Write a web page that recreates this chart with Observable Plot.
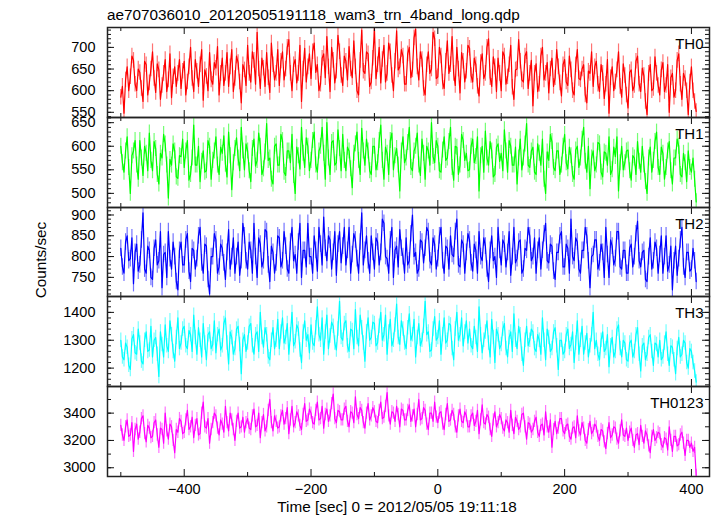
<!DOCTYPE html>
<html><head><meta charset="utf-8">
<script src="https://cdn.jsdelivr.net/npm/d3@7"></script>
<script src="https://cdn.jsdelivr.net/npm/@observablehq/plot@0.6"></script>
<style>
body{margin:0;background:#fff;}
#wrap{position:relative;width:717px;height:516px;font-family:"Liberation Sans",Arial,sans-serif;color:#000;overflow:hidden;}
#wrap svg{overflow:visible;}
.lbl{position:absolute;font-size:15.3px;line-height:15.3px;white-space:nowrap;}
</style></head><body><div id="wrap"></div>
<script>
// ---- data ----
const titleText = "ae707036010_20120505191118_wam3_trn_4band_long.qdp";
const xLabel = "Time [sec] 0 = 2012/05/05 19:11:18";
const yLabel = "Counts/sec";
const panelNames = ["TH0", "TH1", "TH2", "TH3", "TH0123"];
const panelColors = ["#ff0000", "#00ff00", "#0000ff", "#00ffff", "#ff00ff"];
const tStart = -500, tStep = 2.5;
const th0 = [
585,610,548,625,655,600,632,680,670,615,600,650,642,605,575,668,660,590,618,650,
690,628,596,662,648,580,612,640,672,598,625,685,584,632,655,610,640,672,605,645,
668,590,620,655,700,628,598,672,645,610,660,695,578,648,633,600,688,625,615,665,
652,702,590,640,675,612,640,688,610,655,695,598,628,680,665,620,572,660,648,612,
705,640,620,690,670,615,735,650,605,675,652,610,688,630,596,710,660,625,640,695,
612,668,690,625,650,700,718,640,600,660,672,618,640,705,575,650,698,620,655,685,
628,690,710,642,660,600,615,675,685,630,725,655,598,700,670,618,645,728,690,635,
612,680,668,625,702,650,630,715,655,600,590,670,740,645,640,690,685,610,620,675,
745,628,660,700,618,672,705,620,640,710,690,635,600,668,738,648,655,695,680,615,
615,685,700,630,648,722,742,655,625,690,672,605,590,660,690,640,650,735,720,628,
632,700,680,620,605,668,715,640,660,725,640,612,700,650,595,688,668,620,645,705,
698,635,620,675,660,610,588,665,685,628,640,700,720,630,610,678,655,598,675,640,
600,690,680,615,632,660,705,608,580,648,650,718,668,625,620,680,690,605,640,670,
565,640,662,598,615,680,700,625,640,665,595,650,675,610,630,695,655,618,588,660,
672,620,612,680,648,600,590,660,695,628,625,650,660,590,572,645,640,690,610,655,
668,615,598,660,640,582,615,672,548,630,655,600,620,648,690,610,585,662,635,590,
560,642,648,600,612,668,680,615,598,652,635,575,545,640,660,600,605,678,640,612,
590,648,665,598,612,660,550,630,640,585,600,670,685,615,580,640,628,600,545,620,
655,600,575,552];
const th1 = [
600,565,545,590,620,555,500,580,590,612,560,530,612,575,538,600,585,548,628,570,
548,610,595,540,520,585,575,625,605,560,490,572,560,605,590,535,532,580,578,615,
555,590,612,528,540,575,645,560,560,600,525,568,590,545,548,612,600,530,570,590,
620,560,540,598,585,622,562,535,630,580,508,565,595,618,575,548,640,590,550,605,
590,548,525,595,615,558,570,628,600,540,552,588,648,570,575,530,520,600,605,560,
560,625,612,545,538,590,590,565,625,538,500,598,580,552,640,585,555,618,600,548,
570,612,630,560,545,590,600,640,585,530,650,575,540,608,612,560,565,635,595,548,
625,570,548,598,590,552,512,585,605,630,570,540,638,590,560,615,590,548,540,600,
600,550,565,612,645,570,530,598,585,540,612,628,550,580,595,560,505,590,620,565,
575,608,640,555,548,590,600,628,560,538,615,585,530,600,590,560,650,578,565,612,
600,548,545,592,620,570,575,610,640,555,528,600,598,540,560,625,612,570,585,548,
550,600,615,565,578,620,505,580,600,545,632,575,560,610,590,535,540,598,605,568,
585,548,635,590,545,612,600,560,560,598,520,575,615,550,575,605,648,560,555,590,
598,545,540,605,585,560,615,530,500,588,570,625,610,555,548,590,590,540,560,600,
625,565,552,598,580,540,530,592,600,555,575,615,640,568,545,600,510,575,590,548,
560,608,605,545,535,588,585,560,620,540,550,598,578,620,505,565,600,550,565,590,
592,548,528,580,575,540,610,568,545,600,560,525,500,575,598,545,570,610,630,555,
540,598,585,530,555,590,610,548,520,575,575,615,600,540,535,585,565,525,590,555,
545,575,530,482];
const th2 = [
820,775,760,835,850,790,795,845,735,810,830,765,780,840,905,770,760,825,815,750,
745,820,840,780,790,860,725,805,810,750,860,795,770,835,800,740,720,815,835,780,
780,840,855,765,740,820,815,770,795,850,870,785,760,830,825,745,710,800,800,855,
840,760,775,830,820,785,745,810,865,770,800,845,760,800,835,755,790,880,850,790,
770,835,815,760,880,800,750,845,830,775,790,865,860,780,740,825,810,760,785,850,
845,775,790,860,825,770,760,835,870,790,805,760,835,880,750,815,815,775,880,800,
800,760,850,815,765,870,830,780,895,820,790,850,840,770,810,860,755,830,860,785,
825,870,780,815,870,760,805,855,840,795,760,835,905,780,815,850,790,760,850,810,
770,845,835,780,810,890,880,800,795,760,840,870,750,815,825,775,865,820,800,760,
845,780,790,855,900,800,810,760,770,840,835,785,820,870,860,790,780,845,830,770,
795,850,870,790,760,825,820,770,850,805,800,860,890,780,775,840,830,760,810,855,
840,785,765,830,815,760,860,800,790,845,825,770,740,815,850,790,800,750,870,815,
780,840,830,775,810,860,755,800,870,785,795,835,840,760,770,820,815,870,850,790,
800,845,760,815,845,770,815,855,880,790,785,830,825,765,745,810,810,850,860,775,
775,830,820,760,890,800,790,845,835,770,760,815,815,870,850,790,725,800,805,840,
840,770,785,830,810,750,870,805,750,840,825,780,795,860,860,775,770,815,815,760,
760,820,830,775,800,855,885,790,775,810,815,745,740,800,845,770,790,835,820,760,
805,850,760,800,850,765,780,825,720,790,825,755,795,840,870,775,750,810,810,765,
770,820,790,740];
const th3 = [
1300,1240,1230,1290,1275,1210,1195,1305,1320,1255,1250,1340,1290,1225,1215,1300,1330,1260,1265,1350,
1240,1300,1310,1250,1170,1330,1285,1240,1355,1280,1260,1370,1320,1260,1225,1310,1380,1270,1290,1340,
1350,1280,1270,1335,1320,1260,1390,1310,1250,1345,1300,1240,1360,1290,1230,1320,1330,1270,1285,1370,
1255,1320,1340,1265,1280,1360,1380,1290,1215,1330,1310,1250,1270,1340,1350,1285,1180,1300,1320,1260,
1290,1350,1360,1280,1250,1320,1330,1260,1400,1310,1275,1345,1320,1240,1230,1300,1345,1270,1300,1375,
1270,1330,1380,1290,1310,1360,1250,1320,1400,1280,1295,1355,1340,1265,1220,1330,1370,1300,1320,1255,
1355,1290,1280,1345,1420,1320,1300,1380,1250,1330,1390,1270,1315,1365,1350,1290,1265,1340,1440,1310,
1300,1360,1370,1280,1260,1340,1335,1270,1410,1310,1280,1390,1345,1290,1225,1330,1380,1300,1310,1365,
1360,1280,1290,1350,1400,1300,1320,1390,1250,1330,1375,1280,1300,1355,1430,1310,1285,1370,1340,1290,
1270,1345,1395,1300,1320,1375,1240,1310,1360,1280,1300,1350,1440,1320,1330,1260,1265,1340,1385,1300,
1310,1370,1250,1320,1380,1290,1300,1360,1355,1270,1230,1340,1400,1300,1320,1380,1280,1330,1370,1290,
1340,1280,1270,1350,1310,1260,1420,1320,1255,1300,1330,1370,1290,1240,1375,1310,1220,1340,1320,1270,
1285,1340,1360,1270,1240,1310,1330,1260,1395,1300,1270,1350,1320,1250,1210,1300,1350,1280,1300,1340,
1330,1270,1260,1320,1300,1250,1380,1300,1230,1340,1310,1260,1270,1330,1345,1280,1195,1300,1300,1250,
1260,1320,1340,1270,1285,1330,1220,1290,1370,1250,1300,1350,1250,1290,1325,1240,1280,1320,1400,1270,
1300,1250,1230,1300,1330,1260,1270,1320,1205,1280,1310,1240,1260,1340,1355,1270,1240,1300,1290,1230,
1225,1290,1300,1240,1260,1320,1345,1250,1190,1280,1290,1230,1250,1310,1320,1260,1210,1290,1285,1240,
1300,1230,1240,1290,1330,1250,1210,1280,1275,1230,1180,1270,1310,1240,1250,1300,1290,1220,1200,1270,
1260,1220,1190,1150];
const th0123 = [
3310,3240,3200,3300,3350,3230,3240,3330,3120,3280,3320,3210,3260,3360,3380,3250,3190,3310,3290,3220,
3230,3330,3350,3240,3150,3290,3280,3180,3400,3270,3210,3320,3300,3200,3110,3280,3260,3360,3340,3250,
3260,3350,3420,3280,3300,3370,3220,3310,3360,3240,3250,3400,3480,3300,3290,3360,3180,3280,3330,3400,
3380,3290,3240,3350,3320,3260,3450,3330,3270,3400,3350,3280,3200,3340,3400,3290,3300,3370,3260,3330,
3360,3290,3280,3380,3430,3300,3310,3400,3220,3330,3390,3270,3300,3420,3500,3330,3270,3380,3340,3290,
3300,3380,3420,3320,3360,3440,3250,3350,3450,3300,3330,3410,3380,3310,3280,3390,3470,3340,3350,3430,
3400,3330,3320,3420,3480,3350,3360,3450,3290,3390,3430,3340,3380,3470,3540,3360,3330,3420,3410,3350,
3350,3430,3450,3340,3300,3410,3400,3330,3520,3390,3360,3440,3420,3330,3290,3400,3470,3350,3380,3440,
3410,3340,3330,3420,3480,3360,3370,3450,3550,3380,3320,3410,3400,3340,3450,3390,3300,3430,3420,3350,
3350,3420,3460,3340,3380,3430,3300,3390,3500,3350,3360,3440,3420,3320,3280,3400,3400,3340,3480,3370,
3330,3400,3410,3320,3280,3390,3470,3340,3350,3420,3390,3300,3260,3380,3430,3340,3330,3410,3380,3300,
3300,3380,3400,3310,3340,3420,3250,3350,3460,3330,3320,3390,3370,3280,3230,3350,3410,3300,3330,3390,
3360,3290,3270,3350,3330,3260,3420,3310,3250,3370,3340,3280,3300,3390,3400,3300,3210,3330,3320,3260,
3280,3340,3370,3260,3230,3310,3320,3240,3410,3300,3260,3350,3150,3280,3340,3250,3290,3360,3360,3270,
3250,3310,3320,3230,3210,3290,3300,3220,3380,3270,3240,3330,3290,3200,3180,3280,3340,3250,3270,3320,
3300,3230,3200,3280,3270,3190,3140,3250,3330,3220,3240,3300,3290,3210,3180,3270,3350,3240,3230,3290,
3200,3260,3290,3200,3150,3240,3250,3170,3310,3230,3180,3270,3240,3160,3110,3230,3280,3200,3220,3260,
3250,3170,3150,3220,3210,3130,3300,3200,3120,3230,3230,3160,3170,3240,3260,3180,3090,3200,3200,3150,
3180,3120,3150,2945];
const seriesList = [th0, th1, th2, th3, th0123];
const errors = [18, 17, 20, 26, 45];
const yDomains = [[538, 746], [470, 661], [704, 918], [1134, 1457], [2936, 3595]];
const yMajorTicks = [[550, 600, 650, 700], [500, 550, 600, 650], [750, 800, 850, 900], [1200, 1300, 1400], [3000, 3200, 3400]];
const yMinorSteps = [10, 10, 10, 20, 100];
const xDomain = [-521, 428.5];
const xMajorTicks = [-400, -200, 0, 200, 400];
const xMinorTicks = [-500, -300, -100, 100, 300];

// ---- layout ----
const W = 717, ML = 107, MR = 8;
const panelTops = [27, 117, 207, 296, 386];
const panelHeights = [90, 90, 89, 90, 90];
const iw = W - ML - MR;
const wrap = document.getElementById("wrap");
const fmt = d => d < 0 ? "\u2212" + (-d) : String(d);

function addLabel(text, css) {
  const d = document.createElement("div");
  d.className = "lbl";
  d.textContent = text;
  Object.assign(d.style, css);
  wrap.appendChild(d);
  return d;
}

seriesList.forEach((vals, i) => {
  const isLast = i === seriesList.length - 1;
  const ih = panelHeights[i];
  const color = panelColors[i];
  const data = vals.map((v, j) => ({t: tStart + j * tStep, v, lo: v - errors[i], hi: v + errors[i]}));
  const [y0, y1] = yDomains[i];
  const minor = d3.range(Math.ceil(y0 / yMinorSteps[i]) * yMinorSteps[i], y1, yMinorSteps[i]);
  const major = yMajorTicks[i];
  const tk = {stroke: "#111", strokeWidth: 1};
  const svg = Plot.plot({
    width: W,
    height: ih + (isLast ? 40 : 0),
    marginLeft: ML, marginRight: MR, marginTop: 0, marginBottom: isLast ? 40 : 0,
    style: {fontFamily: "'Liberation Sans', Arial, sans-serif", fontSize: "14.5px", color: "#000", background: "transparent", overflow: "visible"},
    x: {domain: xDomain, axis: null},
    y: {domain: yDomains[i], axis: null},
    marks: [
      Plot.ruleX(data, {x: "t", y1: "lo", y2: "hi", stroke: color, strokeOpacity: 0.55, strokeWidth: 1.2, clip: true}),
      Plot.line(data, {x: "t", y: "v", stroke: color, strokeWidth: 1.2, clip: true}),
      Plot.tickY(minor, {insetRight: iw - 4, ...tk}),
      Plot.tickY(minor, {insetLeft: iw - 4, ...tk}),
      Plot.tickY(major, {insetRight: iw - 7, ...tk}),
      Plot.tickY(major, {insetLeft: iw - 7, ...tk}),
      Plot.tickX(xMinorTicks, {insetBottom: ih - 4, ...tk}),
      Plot.tickX(xMinorTicks, {insetTop: ih - 4, ...tk}),
      Plot.tickX(xMajorTicks, {insetBottom: ih - 7, ...tk}),
      Plot.tickX(xMajorTicks, {insetTop: ih - 7, ...tk}),
      Plot.axisY({ticks: major, tickSize: 0, tickPadding: 12, tickFormat: fmt, label: null}),
      isLast ? Plot.axisX({ticks: xMajorTicks, tickSize: 0, tickPadding: 7, tickFormat: fmt, label: null}) : null,
      Plot.text([panelNames[i]], {frameAnchor: "top-right", dx: -6, dy: 10.7, textAnchor: "end", fontSize: 15, fill: "#000"}),
      Plot.frame({stroke: "#222", strokeWidth: 1.5})
    ]
  });
  const holder = document.createElement("div");
  holder.style.position = "absolute";
  holder.style.left = "0px";
  holder.style.top = panelTops[i] + "px";
  holder.appendChild(svg);
  wrap.appendChild(holder);
});

addLabel(titleText, {left: "107px", top: "7.3px"});
addLabel(xLabel, {left: "397px", top: "498.5px", transform: "translateX(-50%)"});
addLabel(yLabel, {left: "41px", top: "260px", transform: "translate(-50%,-50%) rotate(-90deg)"});
</script></body></html>
